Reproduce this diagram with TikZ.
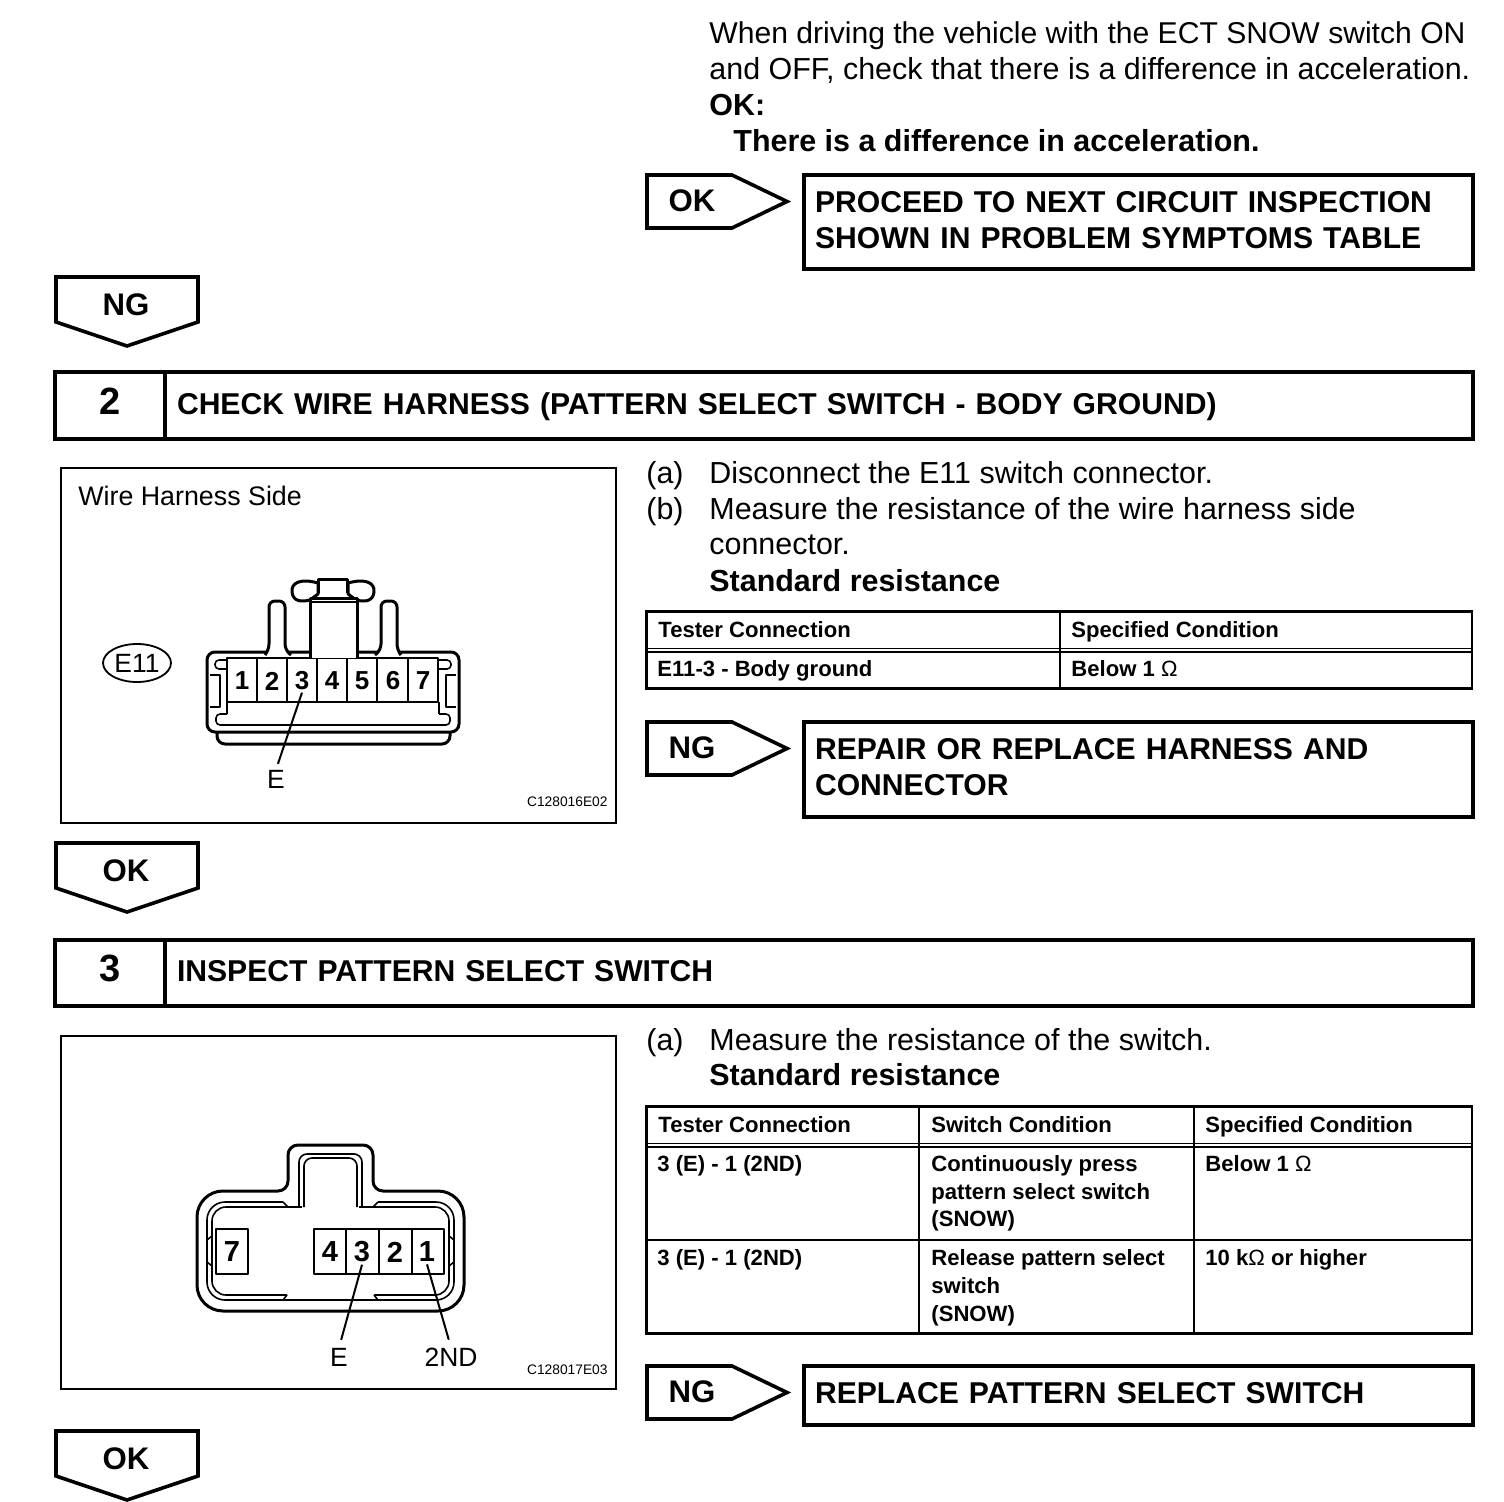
\documentclass[tikz,border=0pt]{standalone}
\usepackage{fontspec}
\setmainfont{Liberation Sans}
\usetikzlibrary{positioning,shapes.geometric}
\newcommand{\fbody}{\fontsize{15.22}{18}\selectfont}
\newcommand{\fhead}{\fontsize{15.06}{18}\bfseries\selectfont}
\newcommand{\fcell}{\fontsize{11.05}{13.75}\bfseries\selectfont}
\tikzset{
  bodytxt/.style={anchor=base west,inner sep=0pt,font=\fbody,align=left},
  boldtxt/.style={bodytxt,font=\fbody\bfseries},
  celltxt/.style={anchor=base west,inner sep=0pt,font=\fcell,align=left},
  tagtxt/.style={inner sep=0pt,font=\fontsize{15.6}{18}\bfseries\selectfont},
  tagline/.style={draw=black,line width=1.8pt,line join=miter},
  resultbox/.style={draw=black,line width=2pt,anchor=north west,outer sep=0pt,
    inner xsep=5.5pt,inner ysep=0pt,minimum width=334.5pt,text width=323.5pt,align=left,font=\fhead,
    execute at end node={\par\vspace{2pt}}},
  numcell/.style={draw=black,line width=2pt,anchor=north west,outer sep=0pt,inner sep=0pt,
    minimum width=55pt,minimum height=33.25pt,text depth=4.2pt,font=\fontsize{19}{20}\bfseries\selectfont},
  titlecell/.style={draw=black,line width=2pt,outer sep=0pt,inner xsep=6pt,inner ysep=0pt,
    minimum width=654pt,minimum height=33.25pt,text width=642pt,align=left,font=\fhead,
    execute at begin node={\vphantom{(}},execute at end node={\par\vspace{-.5pt}}},
  figbox/.style={draw=black,line width=1pt},
  tabline/.style={draw=black,line width=1.4pt},
  rowline/.style={draw=black,line width=.9pt},
  wire/.style={draw=black,line width=1.5pt,line join=round},
  thinwire/.style={draw=black,line width=.8pt,line join=round},
  leader/.style={draw=black,line width=1pt},
  pinnum/.style={inner sep=1pt,font=\fontsize{13}{15}\bfseries\selectfont},
  pinnumb/.style={inner sep=1pt,font=\fontsize{14.5}{16}\bfseries\selectfont},
  figtxt/.style={inner sep=0pt,font=\fontsize{13.2}{15}\selectfont},
  codetxt/.style={anchor=base east,inner sep=0pt,font=\fontsize{6.9}{8}\selectfont}
}
\begin{document}
\begin{tikzpicture}[x=.5pt,y=-.5pt]
  \useasboundingbox (0,0) rectangle (1504,1502);

  % instructions
  \node[bodytxt,font=\fontsize{15.05}{18}\selectfont] (introA) at (709,44) {When driving the vehicle with the ECT SNOW switch ON};
  \node[bodytxt] (introB) at (709,80) {and OFF, check that there is a difference in acceleration.};
  \node[boldtxt] (introC) at (709,116) {OK:};
  \node[boldtxt] (introD) at (733,152) {There is a difference in acceleration.};

  % tags
  \foreach \n/\y/\t in {tagA/175/OK,tagB/722/NG,tagC/1366/NG} {
    \draw[tagline] (647,\y) -- ++(85,0) -- ++(55,26.5) -- ++(-55,26.5) -- ++(-85,0) -- cycle;
    \node[tagtxt] (\n) at (692,\y+26) {\t};
  }
  \foreach \n/\y/\t in {downA/277/NG,downB/843/OK,downC/1431/OK} {
    \draw[tagline] (56,\y) -- ++(142,0) -- ++(0,45) -- ++(-71,24) -- ++(-71,-24) -- cycle;
    \node[tagtxt] (\n) at (126,\y+28) {\t};
  }

  % result boxes
  \node[resultbox,minimum height=47.25pt] (resA) at (804,175) {PROCEED TO NEXT CIRCUIT INSPECTION\\SHOWN IN PROBLEM SYMPTOMS TABLE};
  \node[resultbox,minimum height=47.25pt] (resB) at (804,722) {REPAIR OR REPLACE HARNESS AND\\CONNECTOR};
  \node[resultbox,minimum height=29.5pt] (resC) at (804,1366) {REPLACE PATTERN SELECT SWITCH};

  % headers
  \node[numcell] (numB) at (55,372.5) {\hspace{.5pt}2};
  \node[titlecell,right=0pt of numB] (headB) {CHECK WIRE HARNESS (PATTERN SELECT SWITCH - BODY GROUND)};
  \node[numcell] (numC) at (55,939.5) {\hspace{.5pt}3};
  \node[titlecell,right=0pt of numC] (headC) {INSPECT PATTERN SELECT SWITCH};

  % step 2 text
  \node[bodytxt] (aB) at (646,484) {(a)};
  \node[bodytxt] (aBt) at (709,484) {Disconnect the E11 switch connector.};
  \node[bodytxt] (bB) at (646,520) {(b)};
  \node[bodytxt] (bBt) at (709,520) {Measure the resistance of the wire harness side};
  \node[bodytxt] (bBu) at (709,555) {connector.};
  \node[boldtxt] (stdB) at (709,591) {Standard resistance};

  % step 2 table
  \draw[tabline] (646.5,611.5) rectangle (1472,688.5);
  \draw[rowline] (646.5,648.5) -- (1472,648.5) (646.5,652) -- (1472,652);
  \draw[tabline] (1060,611.5) -- (1060,688.5);
  \node[celltxt] (thA) at (658,637) {Tester Connection};
  \node[celltxt] (thB) at (1071,637) {Specified Condition};
  \node[celltxt] (tdA) at (657,676) {E11-3 - Body ground};
  \node[celltxt] (tdB) at (1071,676) {Below 1 {\mdseries Ω}};

  % step 3 text
  \node[bodytxt] (aC) at (646,1050) {(a)};
  \node[bodytxt] (aCt) at (709,1050) {Measure the resistance of the switch.};
  \node[boldtxt] (stdC) at (709,1085) {Standard resistance};

  % step 3 table
  \draw[tabline] (646.5,1106.5) rectangle (1472,1333.5);
  \draw[rowline] (646.5,1143.5) -- (1472,1143.5) (646.5,1147) -- (1472,1147);
  \draw[tabline] (646.5,1240) -- (1472,1240);
  \draw[tabline] (919,1106.5) -- (919,1333.5) (1194,1106.5) -- (1194,1333.5);
  \node[celltxt] (shA) at (658,1132) {Tester Connection};
  \node[celltxt] (shB) at (931,1132) {Switch Condition};
  \node[celltxt] (shC) at (1205,1132) {Specified Condition};
  \node[celltxt] (sdA) at (657,1171) {3 (E) - 1 (2ND)};
  \node[celltxt] (sdB) at (931,1171) {Continuously press};
  \node[celltxt] (sdBb) at (931,1199) {pattern select switch};
  \node[celltxt] (sdBc) at (931,1226) {(SNOW)};
  \node[celltxt] (sdC) at (1205,1171) {Below 1 {\mdseries Ω}};
  \node[celltxt] (seA) at (657,1265) {3 (E) - 1 (2ND)};
  \node[celltxt] (seB) at (931,1265) {Release pattern select};
  \node[celltxt] (seBb) at (931,1293) {switch};
  \node[celltxt] (seBc) at (931,1321) {(SNOW)};
  \node[celltxt] (seC) at (1205,1265) {10 k{\mdseries Ω} or higher};

  % figure of step 2
  \draw[figbox] (61,468) rectangle (616,823);
  \node[bodytxt,font=\fontsize{13.4}{15}\selectfont] (sideB) at (78,506) {Wire Harness Side};
  \node[codetxt] (codeB) at (608,806) {C128016E02};
  \node[figtxt,draw=black,line width=.9pt,ellipse,minimum width=34pt,minimum height=19pt] (eB) at (137,663) {E11};
  \draw[wire,rounded corners=4pt] (207,652) rectangle (459,732);
  \draw[wire,rounded corners=4pt] (217,732) -- (217,744) -- (450,744) -- (450,732);
  \draw[thinwire] (227,658) rectangle (438,702);
  \foreach \x in {257,287,317,347,377,408} \draw[thinwire] (\x,658) -- (\x,702);
  \foreach \sx/\dx in {1/0,-1/666} {
    \begin{scope}[shift={(\dx,0)},xscale=\sx]
      \draw[wire,fill=white,rounded corners=3pt] (265,655) -- (269,650) -- (269,601) -- (285,601) -- (285,650) -- (291,655);
      \draw[thinwire,rounded corners=2pt] (227,669) -- (215,669) -- (215,660) -- (227,660);
      \draw[thinwire,rounded corners=2pt] (227,714) -- (216,714) -- (216,725) -- (333,725);
      \draw[thinwire] (227,702) -- (227,714);
      \draw[thinwire] (210,675) -- (220,675) -- (220,707) -- (210,707);
      \draw[wire,fill=white] (318,583) .. controls (300,578) and (291,583) .. (292,592) .. controls (293,602) and (302,602) .. (310,600) -- (318,594) -- cycle;
    \end{scope}
  }
  \draw[wire] (318,593) -- (318,580) -- (347,580) -- (347,593);
  \draw[wire,fill=white] (310,658) -- (310,598) -- (357,598) -- (357,658);
  \draw[thinwire] (311,602) -- (356,602);
  \foreach \n/\x in {1/242,2/272,3/302,4/332,5/362,6/393,7/423}
    \node[pinnum] (pinB\n) at (\x,681) {\n};
  \node[figtxt] (wireE) at (276,779) {E};
  \draw[leader,shorten >=3pt] (pinB3.south) -- (wireE.north);

  % figure of step 3
  \draw[figbox] (61,1036) rectangle (616,1389);
  \node[codetxt] (codeC) at (608,1374) {C128017E03};
  \draw[wire] (330,1145) [rounded corners=5pt] -- (288,1145) -- (288,1191) [rounded corners=13pt] -- (197,1191) -- (197,1311) -- (464,1311) -- (464,1191) [rounded corners=5pt] -- (373,1191) -- (373,1145) -- cycle;
  \foreach \sx/\dx in {1/0,-1/661} {
    \begin{scope}[shift={(\dx,0)},xscale=\sx]
      \draw[thinwire,rounded corners=9pt] (283,1202) -- (207,1202) -- (207,1300) -- (331,1300);
      \draw[thinwire] (283,1202) -- (288,1207);
      \draw[thinwire,rounded corners=7pt] (302,1207) -- (212,1207) -- (212,1295) -- (287,1295) ;
      \draw[thinwire] (287,1295) -- (283,1300);
      \draw[thinwire,rounded corners=4pt] (299,1207) -- (299,1154) -- (331,1154);
      \draw[thinwire,rounded corners=4pt] (304,1207) -- (304,1158) -- (331,1158);
      \draw[thinwire] (207,1240) -- (212,1236) (207,1262) -- (212,1266);
    \end{scope}
  }
  \draw[thinwire] (216,1229) rectangle (248,1274);
  \draw[thinwire] (314,1229) rectangle (444,1274);
  \foreach \x in {346,379,412} \draw[thinwire] (\x,1229) -- (\x,1274);
  \foreach \n/\x in {7/232,4/330,3/362,2/395,1/427}
    \node[pinnumb] (pinC\n) at (\x,1252) {\n};
  \node[figtxt] (swE) at (339,1357) {E};
  \node[figtxt] (swND) at (451,1357) {2ND};
  \draw[leader,shorten >=4pt] (pinC3.south) -- (swE.north);
  \draw[leader,shorten >=4pt] (pinC1.south) -- (swND.north);
\end{tikzpicture}
\end{document}
